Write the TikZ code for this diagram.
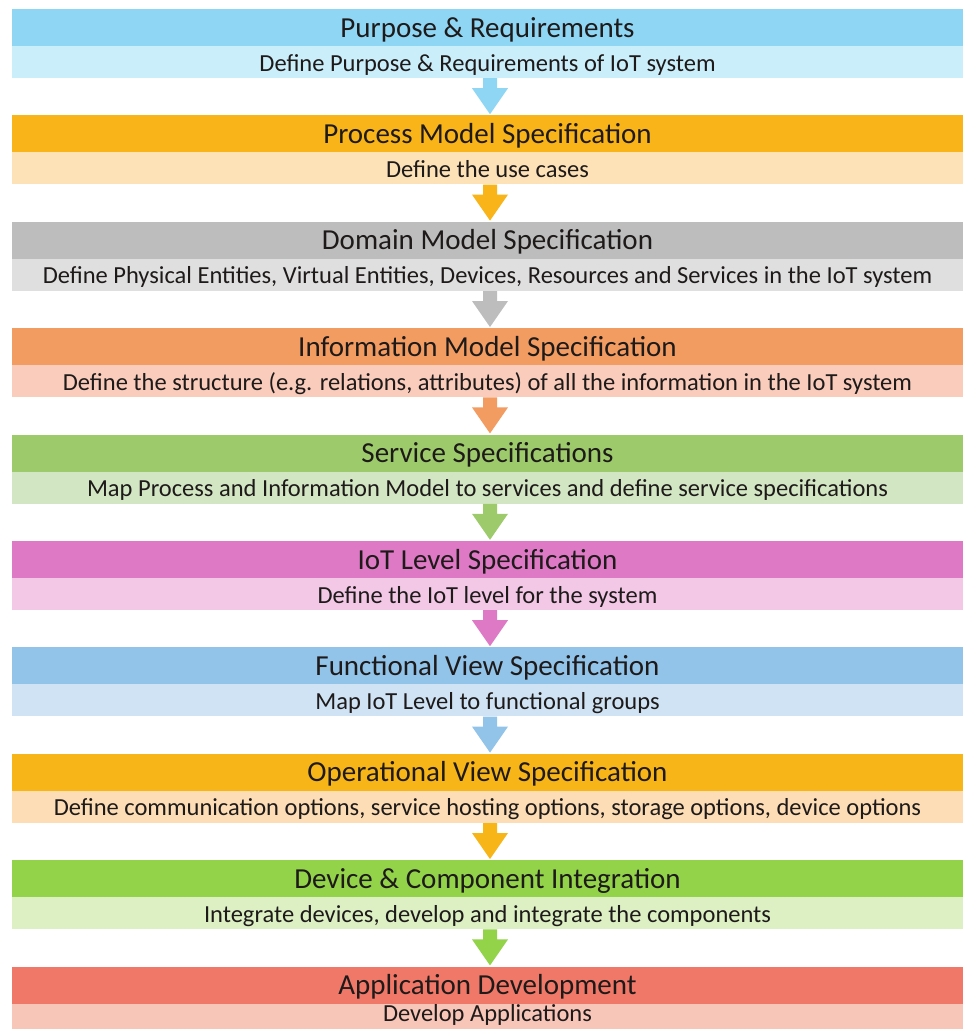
\documentclass[tikz,border=0pt]{standalone}
\usepackage{fontspec}
\setmainfont{Carlito}
\usetikzlibrary{calc}
\definecolor{hA}{HTML}{8FD6F5}\definecolor{dA}{HTML}{CBEEFB}
\definecolor{hB}{HTML}{F8B418}\definecolor{dB}{HTML}{FDE2B8}
\definecolor{hC}{HTML}{BDBDBD}\definecolor{dC}{HTML}{DFDFDF}
\definecolor{hD}{HTML}{F39C62}\definecolor{dD}{HTML}{F9CCBC}
\definecolor{hE}{HTML}{9DCB6B}\definecolor{dE}{HTML}{D3E6C3}
\definecolor{hF}{HTML}{DD79C5}\definecolor{dF}{HTML}{F2C8E6}
\definecolor{hG}{HTML}{92C3E9}\definecolor{dG}{HTML}{CFE3F4}
\definecolor{hH}{HTML}{F7B517}\definecolor{dH}{HTML}{FCDDB5}
\definecolor{hI}{HTML}{93D34A}\definecolor{dI}{HTML}{DCF0C4}
\definecolor{hJ}{HTML}{F07868}\definecolor{dJ}{HTML}{F8C6B8}
\definecolor{txt}{HTML}{1E1A1A}
\newcommand{\mystage}[7][]{%
  \node[hbox, fill=#4] (h#2) at (487.5,#3+18.5) {#6};
  \node[dbox, fill=#5, #1] (d#2) at (487.5,#3+53) {#7};
}
\newcommand{\myarrow}[3]{%
  \coordinate (a#1) at ($(d#1.south)+(2.5,0)$);
  \coordinate (t#1) at ($(h#2.north)+(2.5,-1)$);
  \fill[#3] ($(a#1)+(-7,0)$) -- ($(a#1)+(7,0)$) -- ($(t#1)+(7,-26)$) -- ($(t#1)+(18,-26)$)
    -- (t#1) -- ($(t#1)+(-18,-26)$) -- ($(t#1)+(-7,-26)$) -- cycle;
}
\begin{document}
\begin{tikzpicture}[x=1pt,y=-1pt,
  hbox/.style={rectangle, inner sep=0pt, minimum width=951pt, minimum height=37pt,
    text height=23pt, text depth=4pt, font=\fontsize{29}{32}\selectfont, text=txt},
  dbox/.style={rectangle, inner sep=0pt, minimum width=951pt, minimum height=32pt,
    text height=21pt, text depth=3pt, font=\fontsize{24.5}{27}\selectfont, text=txt}]
\useasboundingbox (0,0) rectangle (963,1029);
\fill[white] (0,0) rectangle (963,1029);
\mystage{1}{9}{hA}{dA}{Purpose \& Requirements}{Define Purpose \& Requirements of IoT system}
\mystage{2}{115.4}{hB}{dB}{Process Model Specification}{Define the use cases}
\mystage{3}{221.8}{hC}{dC}{Domain Model Specification}{Define Physical Entities, Virtual Entities, Devices, Resources and Services in the IoT system}
\mystage{4}{328.2}{hD}{dD}{Information Model Specification}{Define the structure (e.g. relations, attributes) of all the information in the IoT system}
\mystage{5}{434.6}{hE}{dE}{Service Specifications}{Map Process and Information Model to services and define service specifications}
\mystage{6}{541}{hF}{dF}{IoT Level Specification}{Define the IoT level for the system}
\mystage{7}{647.4}{hG}{dG}{Functional View Specification}{Map IoT Level to functional groups}
\mystage{8}{753.8}{hH}{dH}{Operational View Specification}{Define communication options, service hosting options, storage options, device options}
\mystage{9}{860.2}{hI}{dI}{Device \& Component Integration}{Integrate devices, develop and integrate the components}
\mystage[text height=14pt, text depth=11pt]{10}{966.6}{hJ}{dJ}{Application Development}{Develop Applications}
\myarrow{1}{2}{hA}
\myarrow{2}{3}{hB}
\myarrow{3}{4}{hC}
\myarrow{4}{5}{hD}
\myarrow{5}{6}{hE}
\myarrow{6}{7}{hF}
\myarrow{7}{8}{hG}
\myarrow{8}{9}{hH}
\myarrow{9}{10}{hI}
\end{tikzpicture}
\end{document}
